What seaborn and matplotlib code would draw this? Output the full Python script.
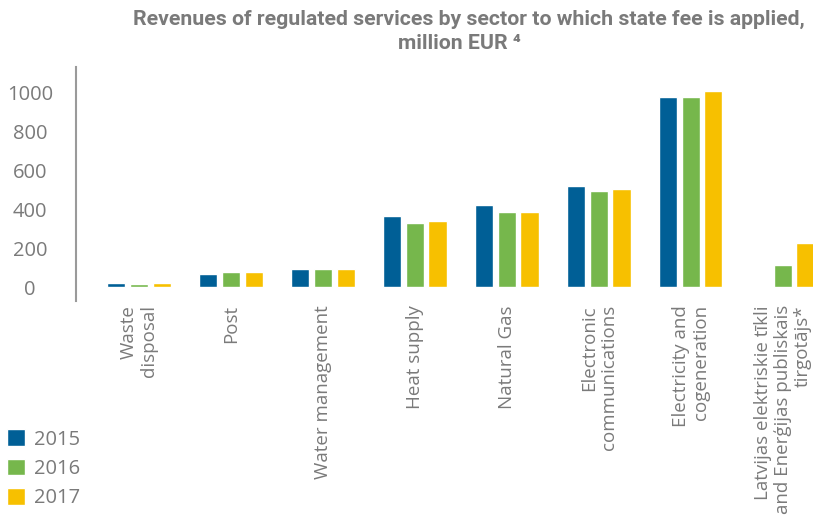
import numpy as np
import pandas as pd
import matplotlib
matplotlib.use('Agg')
import matplotlib.pyplot as plt
import seaborn as sns

# Data (million EUR)
sectors = [
    'Waste\ndisposal',
    'Post',
    'Water management',
    'Heat supply',
    'Natural Gas',
    'Electronic\ncommunications',
    'Electricity and\ncogeneration',
    'Latvijas elektriskie tīkli\nand Enerģijas publiskais\ntirgotājs*',
]
years = ['2015', '2016', '2017']
rev_2015 = [20, 67, 93, 366, 423, 520, 979, 0]
rev_2016 = [15, 77, 93, 330, 387, 495, 979, 113]
rev_2017 = [20, 77, 93, 340, 387, 505, 1010, 227]

colors = ['#005F96', '#76B74C', '#F7C000']
gray = '#7a7a7a'

df = pd.DataFrame({
    'sector': sectors * 3,
    'year': [y for y in years for _ in sectors],
    'value': rev_2015 + rev_2016 + rev_2017,
})

sns.set_style('white')
plt.rcParams['font.family'] = ['Open Sans', 'DejaVu Sans']

fig = plt.figure(figsize=(8.13, 5.16), dpi=100)
ax = fig.add_axes([0.0935, 0.4167, 0.9065, 0.4535])

sns.barplot(data=df, x='sector', y='value', hue='year', palette=colors,
            width=0.74, gap=0.2, saturation=1, ax=ax, legend=True)

ax.set_xlim(-0.685, 7.33)
ax.set_ylim(-72, 1134)
ax.set_yticks([0, 200, 400, 600, 800, 1000])
ax.set_xlabel('')
ax.set_ylabel('')

for s in ['top', 'right', 'bottom']:
    ax.spines[s].set_visible(False)
ax.spines['left'].set_color('#9a9a9a')
ax.spines['left'].set_linewidth(1.5)

ax.tick_params(axis='both', length=0)
ax.tick_params(axis='y', labelsize=14.5, labelcolor=gray, pad=33)
for lbl in ax.get_yticklabels():
    lbl.set_horizontalalignment('center')

ax.tick_params(axis='x', labelsize=13.5, labelcolor=gray, pad=3)
for lbl in ax.get_xticklabels():
    lbl.set_rotation(90)
    lbl.set_verticalalignment('top')
    lbl.set_horizontalalignment('center')
    lbl.set_multialignment('right')
    lbl.set_linespacing(1.12)

# legend in lower-left corner
handles, labels = ax.get_legend_handles_labels()
ax.legend_.remove()
fig.legend(handles, labels, loc='lower left', bbox_to_anchor=(0.0086, 0.015),
           frameon=False, labelcolor=gray, fontsize=14.5,
           handlelength=0.9, handleheight=0.9, handletextpad=0.45,
           labelspacing=0.45, borderaxespad=0, borderpad=0)

fig.text(0.577, 0.962,
         'Revenues of regulated services by sector to which state fee is applied,',
         ha='center', va='center', fontsize=15.3, fontweight='bold', color=gray,
         family=['Roboto', 'DejaVu Sans'])
fig.text(0.565, 0.915, 'million EUR ⁴',
         ha='center', va='center', fontsize=15.3, fontweight='bold', color=gray,
         family=['Roboto', 'DejaVu Sans'])

fig.savefig('out.png', dpi=100)
